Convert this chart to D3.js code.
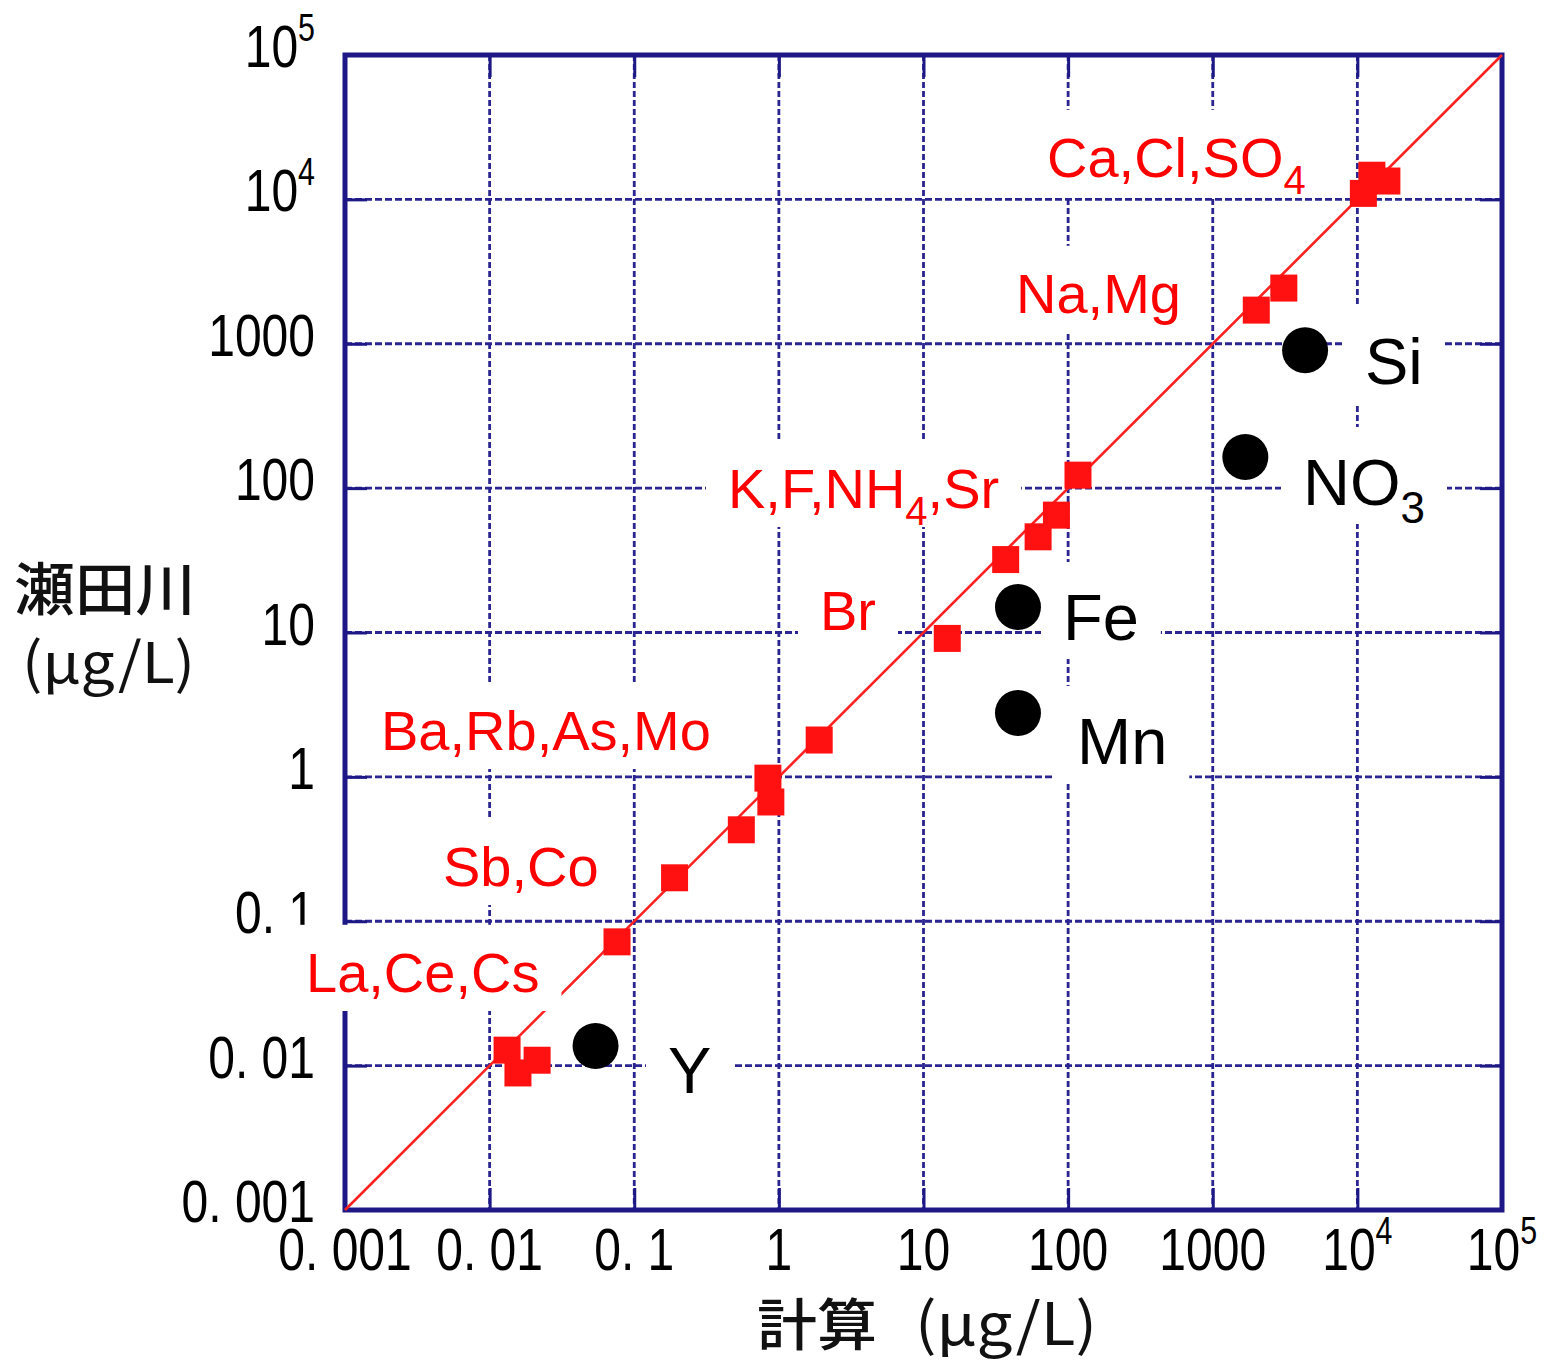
<!DOCTYPE html>
<html><head><meta charset="utf-8">
<script src="https://cdn.jsdelivr.net/npm/d3@7"></script>
<style>body{margin:0;background:#fff}</style></head>
<body>
<svg id="c" width="1545" height="1365"></svg>
<script>
// ---------- data ----------
const decades = [0.001, 0.01, 0.1, 1, 10, 100, 1000, 10000, 100000];
const tickMain = ["0. 001", "0. 01", "0. 1", "1", "10", "100", "1000", "10", "10"];
const tickSup  = ["", "", "", "", "", "", "", "4", "5"];

// elements that agree with the calculation (red squares): calculated, observed
const agreeCalc = [11000, 12600, 16000, 2000, 3100, 117, 83, 62, 37, 14.6, 1.9, 0.84, 0.88, 0.55, 0.19, 0.076, 0.0132, 0.0157, 0.0213];
const agreeObs  = [11000, 14700, 13400, 1710, 2430, 123, 65, 46, 32, 9.1, 1.8, 0.98, 0.67, 0.43, 0.2, 0.072, 0.0128, 0.0089, 0.0109];

// elements that deviate (black circles)
const devNames = ["Si", "NO3", "Fe", "Mn", "Y"];
const devCalc  = [4350, 1680, 45, 45, 0.054];
const devObs   = [900, 164, 15, 2.77, 0.0137];

// label texts: [main, subscript, tail]
const redLabels = [
  ["Ca,Cl,SO", "4", ""],
  ["Na,Mg", "", ""],
  ["K,F,NH", "4", ",Sr"],
  ["Br", "", ""],
  ["Ba,Rb,As,Mo", "", ""],
  ["Sb,Co", "", ""],
  ["La,Ce,Cs", "", ""]
];
const blackLabels = [
  ["Si", "", ""],
  ["NO", "3", ""],
  ["Fe", "", ""],
  ["Mn", "", ""],
  ["Y", "", ""]
];

// ---------- layout ----------
const redPos   = [[1047,177],[1016,313],[728,508],[820,630],[381,750],[443,886],[306,992]];
const blackPos = [[1365,384],[1303,505],[1063,640],[1077,764],[668,1093]];

const svg = d3.select("#c");
const L = 345, R = 1502, T = 55, B = 1210;
const x = d3.scaleLog().domain([1e-3, 1e5]).range([L, R]);
const y = d3.scaleLog().domain([1e-3, 1e5]).range([B, T]);
const navy = "#1d1886", gridC = "#2a2590";

// grid
const inner = decades.slice(1, -1);
svg.append("g").selectAll("line").data(inner).join("line")
  .attr("x1", d => x(d)).attr("x2", d => x(d)).attr("y1", T).attr("y2", B)
  .attr("stroke", gridC).attr("stroke-width", 2.8).attr("stroke-dasharray", "6,3");
svg.append("g").selectAll("line").data(inner).join("line")
  .attr("y1", d => y(d)).attr("y2", d => y(d)).attr("x1", L).attr("x2", R)
  .attr("stroke", gridC).attr("stroke-width", 2.8).attr("stroke-dasharray", "7,3");

// axes ticks (inward) via d3 axes
function styleAxis(g){ g.select(".domain").remove(); g.selectAll(".tick line").attr("stroke", navy).attr("stroke-width", 3); g.selectAll(".tick text").remove(); }
svg.append("g").attr("transform", `translate(0,${B})`).call(d3.axisBottom(x).tickValues(decades).tickSize(-22)).call(styleAxis);
svg.append("g").attr("transform", `translate(0,${T})`).call(d3.axisTop(x).tickValues(decades).tickSize(-22)).call(styleAxis);
svg.append("g").attr("transform", `translate(${L},0)`).call(d3.axisLeft(y).tickValues(decades).tickSize(-22)).call(styleAxis);
svg.append("g").attr("transform", `translate(${R},0)`).call(d3.axisRight(y).tickValues(decades).tickSize(-22)).call(styleAxis);

// frame
svg.append("rect").attr("x", L).attr("y", T).attr("width", R - L).attr("height", B - T)
  .attr("fill", "none").attr("stroke", navy).attr("stroke-width", 5);

// tick labels
const tf = "'Liberation Sans', Arial, sans-serif";
function tickLabel(g, px, py, i, anchor){
  const t = g.append("text").attr("transform", `translate(${px},${py}) scale(0.8,1)`)
    .attr("text-anchor", anchor).attr("font-family", tf).attr("font-size", 60).attr("fill", "#000");
  t.append("tspan").text(tickMain[i]);
  if (tickSup[i]) t.append("tspan").attr("dy", -26).attr("font-size", 38).text(tickSup[i]);
}
const tl = svg.append("g");
decades.forEach((d, i) => tickLabel(tl, x(d), 1270, i, "middle"));
decades.forEach((d, i) => tickLabel(tl, 315, y(d) + 12, i, "end"));

// diagonal 1:1 line
svg.append("line").attr("x1", x(1e-3)).attr("y1", y(1e-3)).attr("x2", x(1e5)).attr("y2", y(1e5))
  .attr("stroke", "#f22").attr("stroke-width", 2.6);

// labels with white boxes
function drawLabel(g, lab, pos, color, size, subSize, subDy){
  const t = g.append("text").attr("x", pos[0]).attr("y", pos[1])
    .attr("font-family", tf).attr("font-size", size).attr("fill", color);
  t.append("tspan").text(lab[0]);
  if (lab[1]) t.append("tspan").attr("dy", subDy).attr("font-size", subSize).text(lab[1]);
  if (lab[2]) t.append("tspan").attr("dy", lab[1] ? -subDy : 0).text(lab[2]);
  const bb = t.node().getBBox();
  const top = pos[1] - size * 1.2, bottom = pos[1] + 19;
  g.insert("rect", "text").attr("x", bb.x - 22).attr("y", top)
    .attr("width", bb.width + 44).attr("height", bottom - top).attr("fill", "#fff");
}
redLabels.forEach((lab, i) => { const g = svg.append("g"); drawLabel(g, lab, redPos[i], "#ff0000", 56, 40, 17); });
blackLabels.forEach((lab, i) => { const g = svg.append("g"); drawLabel(g, lab, blackPos[i], "#000", 65, 44, 18); });

// points
const sq = 27;
svg.append("g").selectAll("rect").data(agreeCalc).join("rect")
  .attr("x", (d, i) => x(d) - sq / 2).attr("y", (d, i) => y(agreeObs[i]) - sq / 2)
  .attr("width", sq).attr("height", sq).attr("fill", "#ff1111");
svg.append("g").selectAll("circle").data(devCalc).join("circle")
  .attr("cx", d => x(d)).attr("cy", (d, i) => y(devObs[i])).attr("r", 23).attr("fill", "#000");

// axis titles
const jf = "'Noto Sans CJK JP', sans-serif";
svg.append("text").attr("x", 14).attr("y", 610).attr("font-family", jf).attr("font-size", 57).attr("font-weight", 500)
  .attr("textLength", 182).attr("lengthAdjust", "spacingAndGlyphs").attr("fill", "#111").text("瀬田川");
svg.append("text").attr("x", 22).attr("y", 683).attr("font-family", jf).attr("font-size", 56)
  .attr("textLength", 173).attr("lengthAdjust", "spacingAndGlyphs").attr("fill", "#111").text("(μg/L)");
svg.append("g").call(g => {
  g.append("text").attr("x", 757).attr("y", 1345).attr("font-family", jf).attr("font-size", 56).attr("font-weight", 500)
    .attr("textLength", 120).attr("lengthAdjust", "spacingAndGlyphs").attr("fill", "#111").text("計算");
  g.append("text").attr("x", 915).attr("y", 1345).attr("font-family", jf).attr("font-size", 58)
    .attr("textLength", 182).attr("lengthAdjust", "spacingAndGlyphs").attr("fill", "#111").text("(μg/L)");
});
</script>
</body></html>
